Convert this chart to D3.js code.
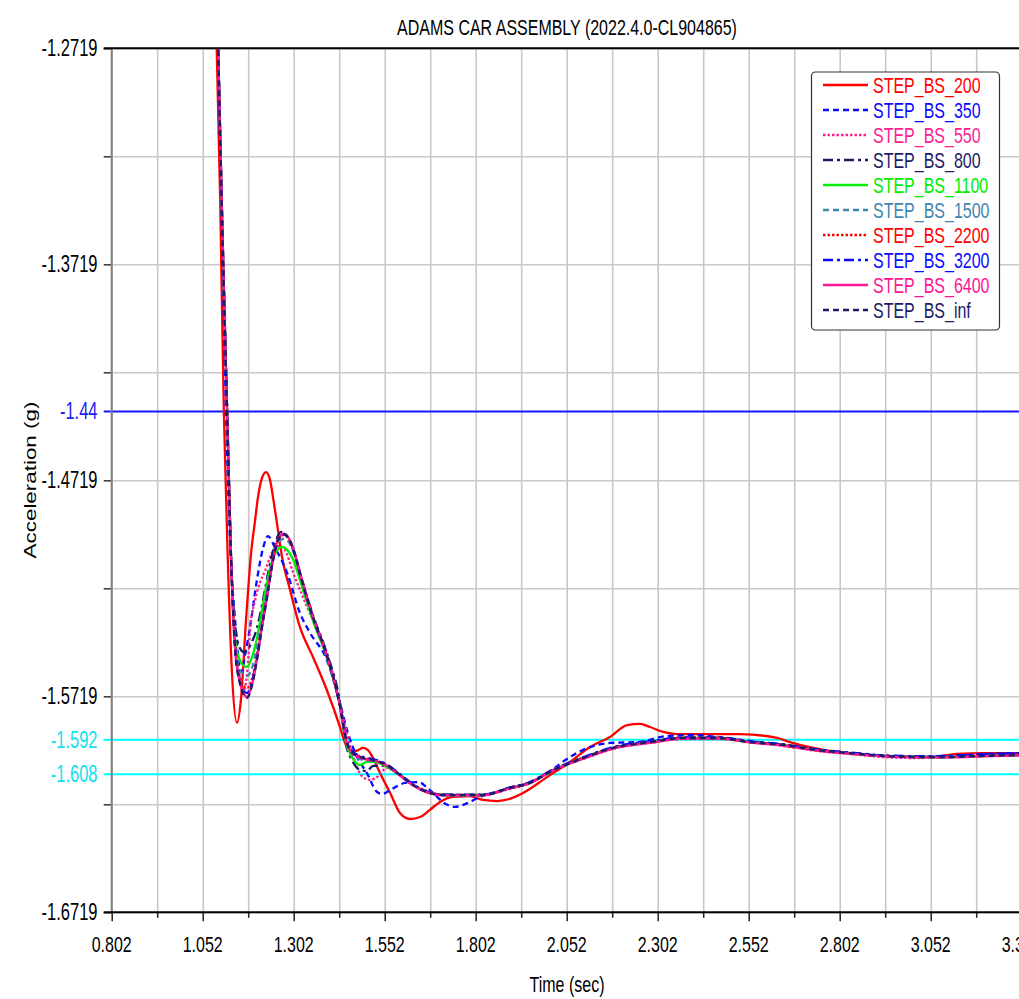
<!DOCTYPE html>
<html>
<head>
<meta charset="utf-8">
<script src="https://cdn.jsdelivr.net/npm/d3@7"></script>
<style>
  html, body { margin: 0; padding: 0; background: #fff; overflow: hidden; }
  svg { display: block; font-family: "Liberation Sans", Arial, sans-serif; }
</style>
</head>
<body>
<svg id="chart" width="1019" height="999"></svg>
<script>
// ---- axis ticks ----
const xMajorTicks = [0.802, 1.052, 1.302, 1.552, 1.802, 2.052, 2.302, 2.552, 2.802, 3.052, 3.302];
const xMajorLabels = ["0.802", "1.052", "1.302", "1.552", "1.802", "2.052", "2.302", "2.552", "2.802", "3.052", "3.302"];
const xMinorTicks = [0.927, 1.177, 1.427, 1.677, 1.927, 2.177, 2.427, 2.677, 2.927, 3.177];
const yMajorTicks = [-1.2719, -1.3719, -1.4719, -1.5719, -1.6719];
const yMajorLabels = ["-1.2719", "-1.3719", "-1.4719", "-1.5719", "-1.6719"];
const yMinorTicks = [-1.3219, -1.4219, -1.5219, -1.6219];

// ---- reference levels ----
const refValues = [-1.44, -1.592, -1.608];
const refLabels = ["-1.44", "-1.592", "-1.608"];

// ---- series ----
const seriesNames = ["STEP_BS_200", "STEP_BS_350", "STEP_BS_550", "STEP_BS_800", "STEP_BS_1100",
                     "STEP_BS_1500", "STEP_BS_2200", "STEP_BS_3200", "STEP_BS_6400", "STEP_BS_inf"];

// time (s), acceleration (g)
const bs200 = [[1.090,-1.2681],[1.100,-1.3421],[1.110,-1.4398],[1.121,-1.5088],[1.132,-1.5597],[1.146,-1.5842],
  [1.157,-1.5736],[1.171,-1.5366],[1.185,-1.5055],[1.196,-1.4903],[1.204,-1.4796],[1.215,-1.4708],[1.226,-1.4681],
  [1.237,-1.4717],[1.245,-1.4796],[1.256,-1.4917],[1.270,-1.5074],[1.292,-1.5227],[1.319,-1.5398],[1.355,-1.5537],
  [1.393,-1.5690],[1.429,-1.5861],[1.443,-1.5935],[1.462,-1.5977],[1.479,-1.5968],[1.492,-1.5958],[1.506,-1.5968],
  [1.520,-1.6005],[1.539,-1.6074],[1.567,-1.6167],[1.594,-1.6259],[1.622,-1.6287],[1.649,-1.6278],[1.676,-1.6245],
  [1.704,-1.6208],[1.740,-1.6185],[1.786,-1.6181],[1.822,-1.6199],[1.861,-1.6204],[1.896,-1.6194],[1.932,-1.6167],
  [1.998,-1.6093],[2.061,-1.6023],[2.116,-1.5954],[2.171,-1.5907],[2.218,-1.5852],[2.253,-1.5847],[2.281,-1.5861],
  [2.317,-1.5884],[2.355,-1.5894],[2.528,-1.5894],[2.630,-1.5912],[2.665,-1.5931],[2.795,-1.5977],[2.921,-1.5995],
  [3.050,-1.6000],[3.124,-1.5986],[3.196,-1.5982],[3.303,-1.5982]];

const bs350 = [[1.094,-1.2681],[1.105,-1.3583],[1.116,-1.4398],[1.127,-1.4995],[1.141,-1.5366],[1.157,-1.5607],
  [1.171,-1.5505],[1.185,-1.5366],[1.201,-1.5180],[1.218,-1.5032],[1.231,-1.4977],[1.251,-1.5032],[1.284,-1.5148],
  [1.319,-1.5333],[1.347,-1.5426],[1.393,-1.5551],[1.429,-1.5750],[1.451,-1.5889],[1.476,-1.6000],[1.503,-1.6074],
  [1.531,-1.6162],[1.545,-1.6171],[1.572,-1.6148],[1.608,-1.6120],[1.644,-1.6116],[1.676,-1.6153],[1.720,-1.6218],
  [1.745,-1.6231],[1.773,-1.6218],[1.814,-1.6185],[1.869,-1.6157],[1.951,-1.6116],[2.006,-1.6065],[2.061,-1.6000],
  [2.116,-1.5954],[2.171,-1.5935],[2.245,-1.5931],[2.328,-1.5903],[2.399,-1.5898],[2.465,-1.5907],[2.556,-1.5926],
  [2.646,-1.5944],[2.740,-1.5968],[2.830,-1.5982],[2.921,-1.5995],[3.014,-1.6000],[3.105,-1.5995],[3.196,-1.5986],
  [3.303,-1.5982]];

const bs550 = [[1.094,-1.2681],[1.106,-1.3560],[1.119,-1.4398],[1.130,-1.5088],[1.141,-1.5458],[1.152,-1.5644],
  [1.165,-1.5690],[1.176,-1.5574],[1.182,-1.5412],[1.196,-1.5273],[1.209,-1.5194],[1.223,-1.5139],[1.242,-1.5055],
  [1.262,-1.5023],[1.278,-1.5042],[1.300,-1.5144],[1.339,-1.5306],[1.374,-1.5435],[1.402,-1.5565],[1.429,-1.5759],
  [1.446,-1.5875],[1.462,-1.5977],[1.492,-1.6093],[1.512,-1.6106],[1.531,-1.6093],[1.558,-1.6051],[1.586,-1.6074],
  [1.622,-1.6120],[1.668,-1.6157],[1.712,-1.6176],[1.767,-1.6181],[1.822,-1.6176],[1.896,-1.6148],[1.951,-1.6120],
  [2.006,-1.6065],[2.097,-1.6009],[2.190,-1.5958],[2.281,-1.5935],[2.372,-1.5917],[2.465,-1.5917],[2.556,-1.5931],
  [2.646,-1.5949],[2.740,-1.5972],[2.830,-1.5986],[2.921,-1.6000],[3.014,-1.6005],[3.105,-1.6000],[3.196,-1.5995],
  [3.303,-1.5991]];

// shared time base for the stiffer settings
const groupTime = [1.094, 1.106, 1.119, 1.130, 1.141, 1.154, 1.165, 1.174, 1.187, 1.201, 1.215, 1.229, 1.242,
  1.256, 1.267, 1.275, 1.286, 1.306, 1.319, 1.355, 1.393, 1.429, 1.446, 1.462, 1.484, 1.503, 1.520, 1.558, 1.594,
  1.630, 1.668, 1.712, 1.767, 1.822, 1.896, 1.951, 2.006, 2.097, 2.190, 2.281, 2.372, 2.465, 2.556, 2.646, 2.740,
  2.830, 2.921, 3.014, 3.105, 3.196, 3.303];

const bs800 = [-1.2676, -1.3552, -1.4394, -1.5088, -1.5389, -1.5495, -1.5514, -1.5505, -1.5468, -1.5403, -1.5296,
  -1.5171, -1.5069, -1.4986, -1.4958, -1.4963, -1.4986, -1.5065, -1.5144, -1.5343, -1.5519, -1.5745, -1.5944,
  -1.6014, -1.6060, -1.6065, -1.6041, -1.6041, -1.6083, -1.6129, -1.6162, -1.6176, -1.6176, -1.6176, -1.6143,
  -1.6120, -1.6069, -1.6005, -1.5954, -1.5931, -1.5912, -1.5912, -1.5931, -1.5944, -1.5968, -1.5982, -1.5995,
  -1.6000, -1.6000, -1.5995, -1.5991];

const bs1100 = [-1.2680, -1.3558, -1.4396, -1.5085, -1.5460, -1.5551, -1.5578, -1.5583, -1.5540, -1.5450, -1.5320,
  -1.5190, -1.5095, -1.5045, -1.5028, -1.5030, -1.5045, -1.5110, -1.5180, -1.5370, -1.5540, -1.5765, -1.5935,
  -1.6000, -1.6037, -1.6023, -1.6023, -1.6046, -1.6085, -1.6130, -1.6163, -1.6176, -1.6177, -1.6176, -1.6143,
  -1.6120, -1.6068, -1.6004, -1.5954, -1.5931, -1.5912, -1.5912, -1.5931, -1.5944, -1.5968, -1.5982, -1.5995,
  -1.6000, -1.6000, -1.5995, -1.5991];

const bs1500 = [-1.2679, -1.3557, -1.4396, -1.5080, -1.5470, -1.5600, -1.5615, -1.5625, -1.5590, -1.5490, -1.5360,
  -1.5230, -1.5110, -1.5020, -1.4995, -1.4990, -1.5000, -1.5075, -1.5155, -1.5360, -1.5535, -1.5765, -1.5925,
  -1.5985, -1.6010, -1.6015, -1.6018, -1.6040, -1.6085, -1.6130, -1.6163, -1.6176, -1.6177, -1.6176, -1.6143,
  -1.6119, -1.6068, -1.6004, -1.5953, -1.5930, -1.5911, -1.5911, -1.5930, -1.5943, -1.5967, -1.5982, -1.5995,
  -1.6000, -1.6000, -1.5995, -1.5991];

const bs2200 = [-1.2678, -1.3555, -1.4395, -1.5082, -1.5480, -1.5628, -1.5672, -1.5681, -1.5640, -1.5530, -1.5385,
  -1.5250, -1.5115, -1.5010, -1.4980, -1.4972, -1.4985, -1.5066, -1.5150, -1.5355, -1.5532, -1.5762, -1.5920,
  -1.5975, -1.5998, -1.6007, -1.6013, -1.6037, -1.6082, -1.6128, -1.6161, -1.6175, -1.6176, -1.6175, -1.6142,
  -1.6118, -1.6067, -1.6003, -1.5952, -1.5929, -1.5910, -1.5910, -1.5930, -1.5942, -1.5966, -1.5981, -1.5994,
  -1.5999, -1.5999, -1.5994, -1.5989];

const bs3200 = [-1.2675, -1.3550, -1.4392, -1.5080, -1.5490, -1.5640, -1.5695, -1.5704, -1.5655, -1.5540, -1.5390,
  -1.5250, -1.5113, -1.5003, -1.4973, -1.4967, -1.4982, -1.5066, -1.5150, -1.5356, -1.5533, -1.5764, -1.5918,
  -1.5972, -1.5995, -1.6004, -1.6010, -1.6035, -1.6080, -1.6126, -1.6160, -1.6174, -1.6175, -1.6174, -1.6141,
  -1.6117, -1.6066, -1.6001, -1.5950, -1.5927, -1.5909, -1.5909, -1.5928, -1.5941, -1.5965, -1.5979, -1.5992,
  -1.5996, -1.5995, -1.5988, -1.5983];

const bs6400 = [-1.2670, -1.3545, -1.4390, -1.5080, -1.5500, -1.5652, -1.5708, -1.5722, -1.5668, -1.5548, -1.5395,
  -1.5255, -1.5117, -1.5005, -1.4974, -1.4966, -1.4980, -1.5062, -1.5145, -1.5350, -1.5530, -1.5762, -1.5925,
  -1.5980, -1.6003, -1.6012, -1.6016, -1.6040, -1.6086, -1.6132, -1.6164, -1.6178, -1.6178, -1.6177, -1.6145,
  -1.6121, -1.6070, -1.6008, -1.5957, -1.5934, -1.5915, -1.5914, -1.5933, -1.5947, -1.5970, -1.5985, -1.5997,
  -1.6002, -1.6002, -1.5997, -1.5993];

const bsInf = [-1.2681, -1.3560, -1.4398, -1.5088, -1.5505, -1.5657, -1.5713, -1.5726, -1.5671, -1.5551, -1.5398,
  -1.5259, -1.5120, -1.5009, -1.4977, -1.4968, -1.4982, -1.5065, -1.5148, -1.5352, -1.5528, -1.5759, -1.5921,
  -1.5977, -1.6000, -1.6009, -1.6014, -1.6037, -1.6083, -1.6129, -1.6162, -1.6176, -1.6176, -1.6176, -1.6143,
  -1.6120, -1.6069, -1.6005, -1.5954, -1.5931, -1.5912, -1.5912, -1.5931, -1.5944, -1.5968, -1.5982, -1.5995,
  -1.6000, -1.6000, -1.5995, -1.5991];

// ---- drawing ----
const W = 1019, H = 999;
const VS = 1.4;            // vertical stretch of the lettering
const svg = d3.select("#chart");
svg.append("rect").attr("width", W).attr("height", H).attr("fill", "#fff");

const x = d3.scaleLinear().domain([0.802, 3.302]).range([111.7, 1021.7]);
const y = d3.scaleLinear().domain([-1.6719, -1.2719]).range([912.3, 48.3]);
const [x0] = x.range();
const yTop = y.range()[1], yBot = y.range()[0];

const withTime = vals => vals.map((v, i) => [groupTime[i], v]);
const series = [
  { name: seriesNames[0], data: bs200,            color: "#ff0000", dash: null },
  { name: seriesNames[1], data: bs350,            color: "#0a0aff", dash: "6,4" },
  { name: seriesNames[2], data: bs550,            color: "#ff2090", dash: "2.5,2" },
  { name: seriesNames[3], data: withTime(bs800),  color: "#1c1c66", dash: "10,4,3,4" },
  { name: seriesNames[4], data: withTime(bs1100), color: "#00ee00", dash: null },
  { name: seriesNames[5], data: withTime(bs1500), color: "#3f86b0", dash: "6,4" },
  { name: seriesNames[6], data: withTime(bs2200), color: "#ff0000", dash: "2.5,2" },
  { name: seriesNames[7], data: withTime(bs3200), color: "#0a0aff", dash: "10,4,3,4" },
  { name: seriesNames[8], data: withTime(bs6400), color: "#ff1493", dash: null },
  { name: seriesNames[9], data: withTime(bsInf),  color: "#1c1c66", dash: "6,4" }
];

function stretchedText(parent, tx, ty, str, anchor, color, size, rotate) {
  return parent.append("text")
    .attr("transform", `translate(${tx},${ty}) scale(1,${VS})` + (rotate ? ` rotate(${rotate})` : ""))
    .attr("text-anchor", anchor)
    .attr("dy", "0.35em")
    .attr("fill", color)
    .style("font-size", size + "px")
    .text(str);
}

// grid
const grid = svg.append("g");
grid.append("g")
  .attr("transform", `translate(0,${yBot})`)
  .call(d3.axisBottom(x).tickValues(xMajorTicks.concat(xMinorTicks)).tickSize(-(yBot - yTop)).tickFormat(""))
  .call(g => g.select(".domain").remove());
grid.append("g")
  .attr("transform", `translate(${x0},0)`)
  .call(d3.axisLeft(y).tickValues(yMajorTicks.concat(yMinorTicks)).tickSize(-(W - x0 + 10)).tickFormat(""))
  .call(g => g.select(".domain").remove());
grid.selectAll("line").attr("stroke", "#c8c8c8").attr("stroke-width", 1.6);

// reference levels
const refColors = ["#1515ff", "#00ffff", "#00ffff"];
const refTextColors = ["#2020f0", "#10e0f0", "#10e0f0"];
refValues.forEach((v, i) => {
  svg.append("line")
    .attr("x1", x0 - 8).attr("x2", W)
    .attr("y1", y(v)).attr("y2", y(v))
    .attr("stroke", refColors[i]).attr("stroke-width", 2);
});

// curves
const clip = svg.append("clipPath").attr("id", "plot-clip");
clip.append("rect").attr("x", x0).attr("y", yTop).attr("width", W - x0 + 10).attr("height", yBot - yTop);
const line = d3.line().x(d => x(d[0])).y(d => y(d[1])).curve(d3.curveMonotoneX);
const curves = svg.append("g").attr("clip-path", "url(#plot-clip)");
series.forEach(s => {
  curves.append("path")
    .attr("d", line(s.data))
    .attr("fill", "none")
    .attr("stroke", s.color)
    .attr("stroke-width", 2.3)
    .attr("stroke-dasharray", s.dash)
    .attr("stroke-linejoin", "round");
});

// left axis
const yAxis = svg.append("g")
  .attr("transform", `translate(${x0},0)`)
  .call(d3.axisLeft(y).tickValues(yMajorTicks.concat(yMinorTicks)).tickSize(8).tickFormat(""));
yAxis.select(".domain").remove();
yAxis.selectAll("line").attr("stroke", "#333").attr("stroke-width", 1.5);
svg.append("line").attr("x1", x0).attr("x2", x0).attr("y1", yTop).attr("y2", yBot)
  .attr("stroke", "#808080").attr("stroke-width", 2);
yMajorTicks.forEach((v, i) => stretchedText(svg, 97.5, y(v), yMajorLabels[i], "end", "#000", 16.5));
refValues.forEach((v, i) => stretchedText(svg, 97.5, y(v), refLabels[i], "end", refTextColors[i], 16.5));

// bottom axis
const xAxis = svg.append("g")
  .attr("transform", `translate(0,${yBot})`)
  .call(d3.axisBottom(x).tickValues(xMajorTicks.concat(xMinorTicks)).tickSize(9).tickFormat(""));
xAxis.select(".domain").remove();
xAxis.selectAll(".tick line")
  .attr("y2", d => xMajorTicks.includes(d) ? 9 : 5.5)
  .attr("stroke", "#222").attr("stroke-width", 1.5);
svg.append("line").attr("x1", x0 - 8).attr("x2", W).attr("y1", yBot).attr("y2", yBot)
  .attr("stroke", "#000").attr("stroke-width", 2);
xMajorTicks.forEach((v, i) => stretchedText(svg, x(v), 944, xMajorLabels[i], "middle", "#000", 16));

// top frame line
svg.append("line").attr("x1", x0 - 8).attr("x2", W).attr("y1", yTop).attr("y2", yTop)
  .attr("stroke", "#000").attr("stroke-width", 2);

// titles
stretchedText(svg, 567, 27, "ADAMS CAR ASSEMBLY (2022.4.0-CL904865)", "middle", "#000", 16);
stretchedText(svg, 567, 984, "Time (sec)", "middle", "#000", 16);
stretchedText(svg, 30, 480, "Acceleration (g)", "middle", "#000", 16, -90);

// legend
const legend = svg.append("g");
legend.append("rect")
  .attr("x", 811.5).attr("y", 72).attr("width", 188).attr("height", 258)
  .attr("rx", 4).attr("fill", "#fff").attr("stroke", "#333").attr("stroke-width", 1.2);
series.forEach((s, i) => {
  const cy = 85 + i * 25;
  legend.append("line")
    .attr("x1", 823).attr("x2", 868).attr("y1", cy).attr("y2", cy)
    .attr("stroke", s.color).attr("stroke-width", 2.3)
    .attr("stroke-dasharray", s.dash);
  stretchedText(legend, 873, cy, s.name, "start", s.color, 16);
});
</script>
</body>
</html>
